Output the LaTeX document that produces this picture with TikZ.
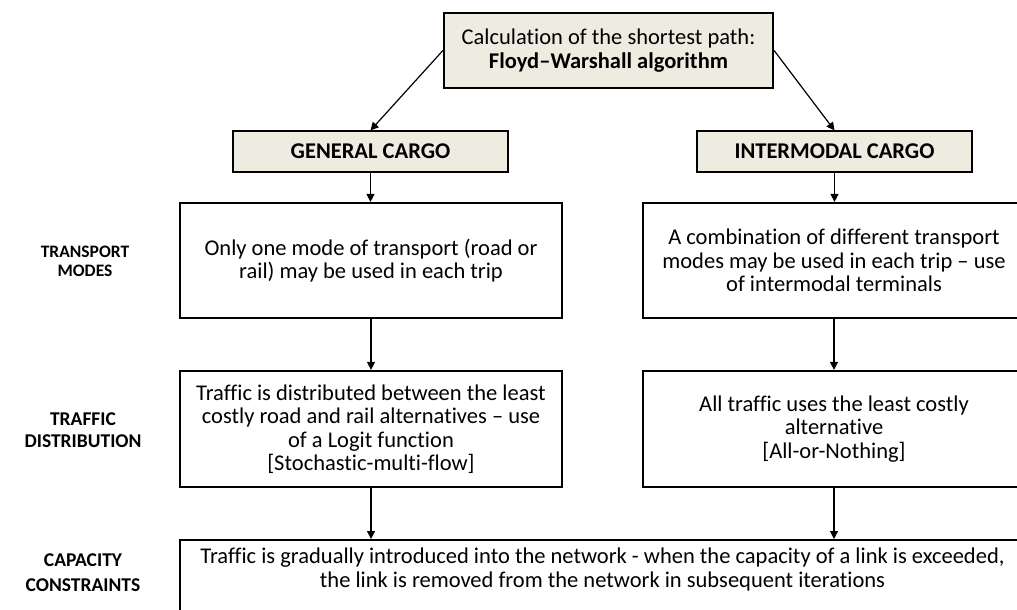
\documentclass[tikz,border=0pt]{standalone}
\usepackage{fontspec}
\setmainfont{Carlito}[Ligatures=NoCommon]
\usetikzlibrary{arrows.meta}
\definecolor{tanfill}{HTML}{EEECE1}
\begin{document}
\begin{tikzpicture}[x=1pt,y=-1pt,
  every node/.style={font=\fontsize{22.5}{23.5}\selectfont, align=center, inner sep=0pt},
  algbox/.style={draw, line width=2.2pt, fill=tanfill, minimum width=329pt, minimum height=75pt},
  cargobox/.style={draw, line width=1.2pt, fill=tanfill, minimum width=275pt, minimum height=41pt},
  stagebox/.style={draw, line width=2.2pt, minimum width=382pt},
  rowlabel/.style={font=\fontsize{19.5}{22}\selectfont\bfseries},
  flow/.style={-{Triangle[length=8pt,width=8pt]}, line width=1.2pt}]
\useasboundingbox (0,0) rectangle (1017,610);
\clip (0,0) rectangle (1017,610);

% shortest path step and the two cargo types
\node[algbox] (alg) at (608.5,50.5) {Calculation of the shortest path:\\\textbf{Floyd\textendash Warshall algorithm}};
\node[cargobox] (gen) at (370.5,151.5) {\textbf{GENERAL CARGO}};
\node[cargobox] (inter) at (834.5,151.5) {\textbf{INTERMODAL CARGO}};

% transport modes
\node[stagebox, minimum height=115pt] (gmode) at (371,260.5)
  {Only one mode of transport (road or\\rail) may be used in each trip};
\node[stagebox, minimum height=115pt] (imode) at (834,260.5)
  {A combination of different transport\\modes may be used in each trip \textendash{} use\\of intermodal terminals};

% traffic distribution
\node[stagebox, minimum height=116pt] (gdist) at (371,429)
  {Traffic is distributed between the least\\costly road and rail alternatives \textendash{} use\\of a Logit function\\{[Stochastic-multi-flow]}};
\node[stagebox, minimum height=116pt] (idist) at (834,429)
  {All traffic uses the least costly\\alternative\\{[All-or-Nothing]}};

% capacity constraints (box runs past the lower edge)
\node[stagebox, minimum width=845pt, minimum height=100pt, anchor=north] (cap) at (602.5,539) {};
\node[anchor=north] (captext) at ([yshift=-9pt]cap.north)
  {Traffic is gradually introduced into the network - when the capacity of a link is exceeded,\\the link is removed from the network in subsequent iterations};

% row labels
\node[rowlabel, font=\fontsize{17.5}{19}\selectfont\bfseries] (lmode) at (85,261) {TRANSPORT\\MODES};
\node[rowlabel] (ldist) at (83,430) {TRAFFIC\\DISTRIBUTION};
\node[rowlabel, font=\fontsize{19.5}{25}\selectfont\bfseries] (lcap) at (83,573) {CAPACITY\\CONSTRAINTS};

% connectors
\draw[flow] (alg.west) -- (gen.north);
\draw[flow] (alg.east) -- (inter.north);
\draw[flow] (gen.south) -- (gen.south |- gmode.north);
\draw[flow] (inter.south) -- (inter.south |- imode.north);
\draw[flow] (gmode.south) -- (gdist.north);
\draw[flow] (imode.south) -- (idist.north);
\draw[flow] (gdist.south) -- (gdist.south |- cap.north);
\draw[flow] (idist.south) -- (idist.south |- cap.north);
\end{tikzpicture}
\end{document}
